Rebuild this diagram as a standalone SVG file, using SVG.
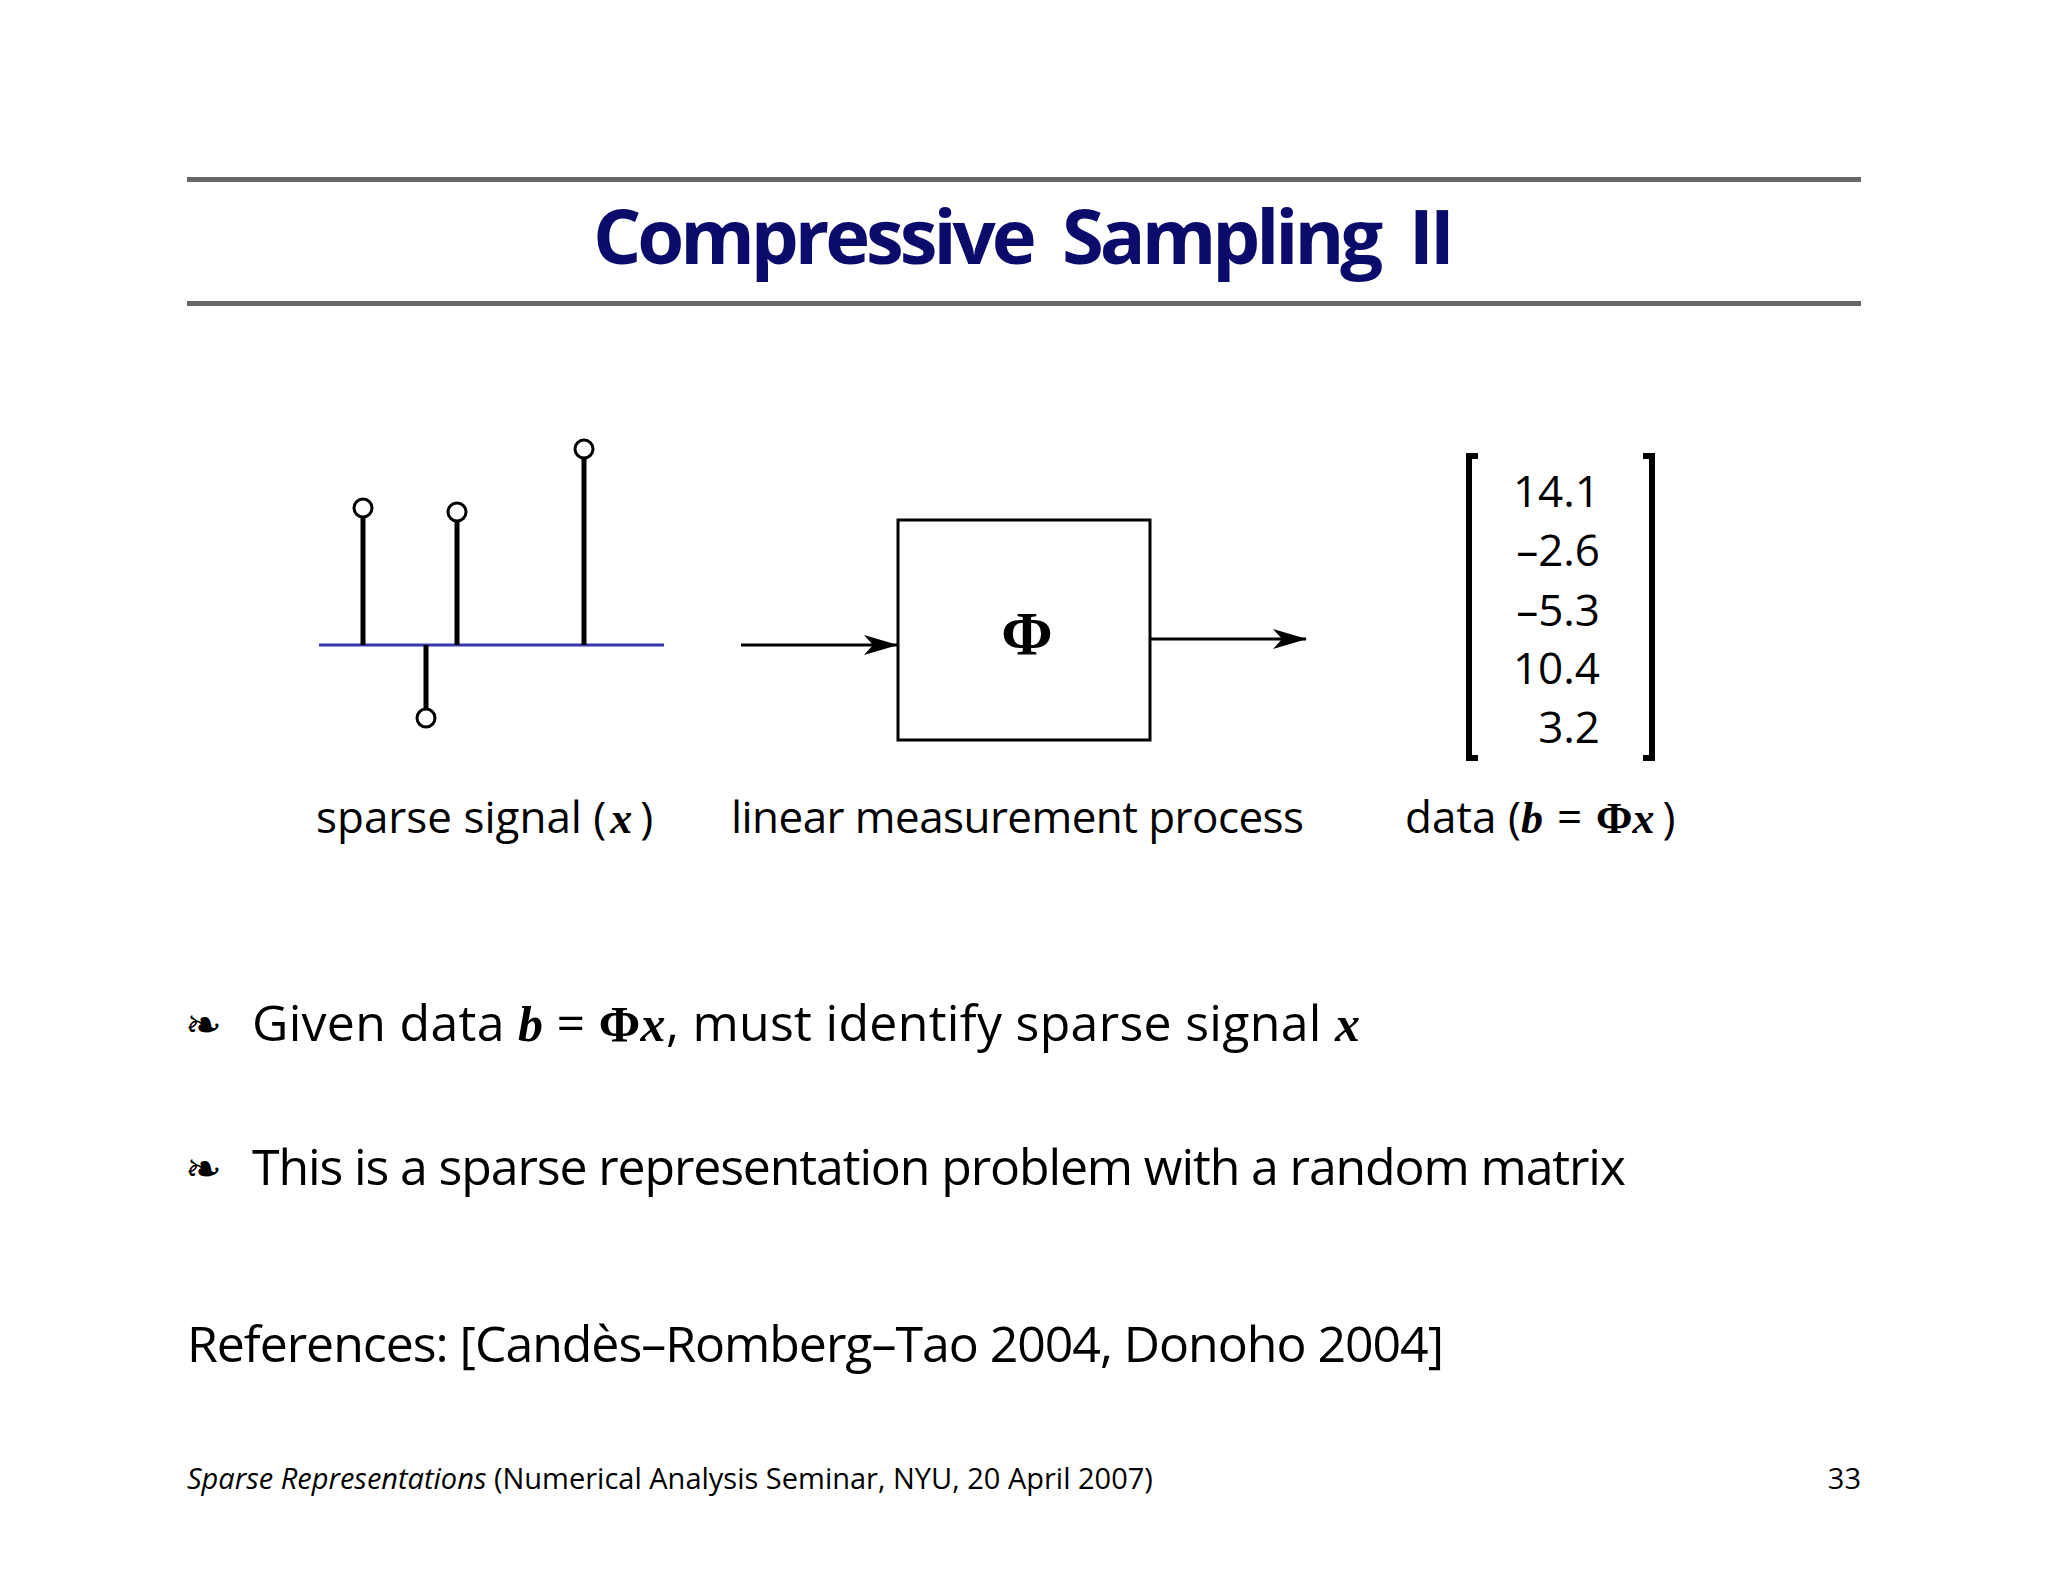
<svg xmlns="http://www.w3.org/2000/svg" width="2048" height="1582" viewBox="0 0 2048 1582">
<style>
.t{font-family:"Open Sans","Liberation Sans",sans-serif;fill:#000}
.m{font-family:"Liberation Serif","DejaVu Serif",serif;font-weight:bold;font-style:italic}
.p{font-family:"Liberation Serif","DejaVu Serif",serif;font-weight:bold}
.stem{stroke:#000;stroke-width:5}
.dot{fill:#fff;stroke:#000;stroke-width:3}
.ln{stroke:#000;stroke-width:3;fill:none}
.bul{font-family:"DejaVu Sans",sans-serif;font-size:44px}
</style>
<defs><marker id="ah" viewBox="0 0 34 20" refX="33" refY="10" markerWidth="34" markerHeight="20" markerUnits="userSpaceOnUse" orient="auto"><path d="M0,0 L34,10 L0,20 L9,10 Z" fill="#000"/></marker></defs>
<rect width="2048" height="1582" fill="#fff"/>
<g id="header">
<rect x="187" y="177" width="1674" height="5" fill="#666"/>
<rect x="187" y="301" width="1674" height="5" fill="#666"/>
<text x="1024" y="264" text-anchor="middle" font-family="Open Sans, Liberation Sans, sans-serif" font-weight="bold" font-size="76" fill="#0b0b6b" textLength="862" word-spacing="14">Compressive Sampling II</text>
</g>
<g id="signal">
<line x1="319" y1="645" x2="664" y2="645" stroke="#3636b0" stroke-width="3"/>
<line class="stem" x1="363" y1="645" x2="363" y2="516"/><circle class="dot" cx="363" cy="508" r="9"/>
<line class="stem" x1="457" y1="645" x2="457" y2="520"/><circle class="dot" cx="457" cy="512" r="9"/>
<line class="stem" x1="584" y1="645" x2="584" y2="457"/><circle class="dot" cx="584" cy="449" r="9"/>
<line class="stem" x1="426" y1="645" x2="426" y2="710"/><circle class="dot" cx="426" cy="718" r="9"/>
<text class="t" x="316" y="833" font-size="44">sparse signal (<tspan class="m" dx="4">x</tspan><tspan dx="8">)</tspan></text>
</g>
<g id="box">
<rect x="898" y="520" width="252" height="220" class="ln"/>
<text class="p" x="1027" y="654" font-size="62" text-anchor="middle">Φ</text>
<text class="t" x="731" y="833" font-size="44" textLength="573">linear measurement process</text>
</g>
<g id="data">
<path d="M1478,456 H1469 V758 H1478 M1643,456 H1652 V758 H1643" fill="none" stroke="#000" stroke-width="6"/>
<g class="t" font-size="44" text-anchor="end">
<text x="1600" y="507">14.1</text><text x="1600" y="566">–2.6</text><text x="1600" y="626">–5.3</text><text x="1600" y="684">10.4</text><text x="1600" y="743">3.2</text>
</g>
<text class="t" x="1405" y="833" font-size="44">data (<tspan class="m">b</tspan><tspan dx="14">=</tspan><tspan class="p" dx="14">Φ</tspan><tspan class="m">x</tspan><tspan dx="8">)</tspan></text>
</g>
<g id="connectors">
<line class="ln" x1="741" y1="645" x2="897" y2="645" marker-end="url(#ah)"/>
<line class="ln" x1="1150" y1="639" x2="1306" y2="639" marker-end="url(#ah)"/>
</g>
<g id="text">
<text class="bul" x="185" y="1040">❧</text>
<text class="t" x="252" y="1041" font-size="50" textLength="1108">Given data <tspan class="m">b</tspan> = <tspan class="p">Φ</tspan><tspan class="m">x</tspan>, must identify sparse signal <tspan class="m">x</tspan></text>
<text class="bul" x="185" y="1184">❧</text>
<text class="t" x="252" y="1185" font-size="50" textLength="1374">This is a sparse representation problem with a random matrix</text>
<text class="t" x="187" y="1362" font-size="50" textLength="1257">References:  [Candès–Romberg–Tao 2004, Donoho 2004]</text>
<text class="t" x="187" y="1489" font-size="29"><tspan font-style="italic">Sparse Representations</tspan> (Numerical Analysis Seminar, NYU, 20 April 2007)</text>
<text class="t" x="1861" y="1489" font-size="29" text-anchor="end">33</text>
</g>
</svg>
